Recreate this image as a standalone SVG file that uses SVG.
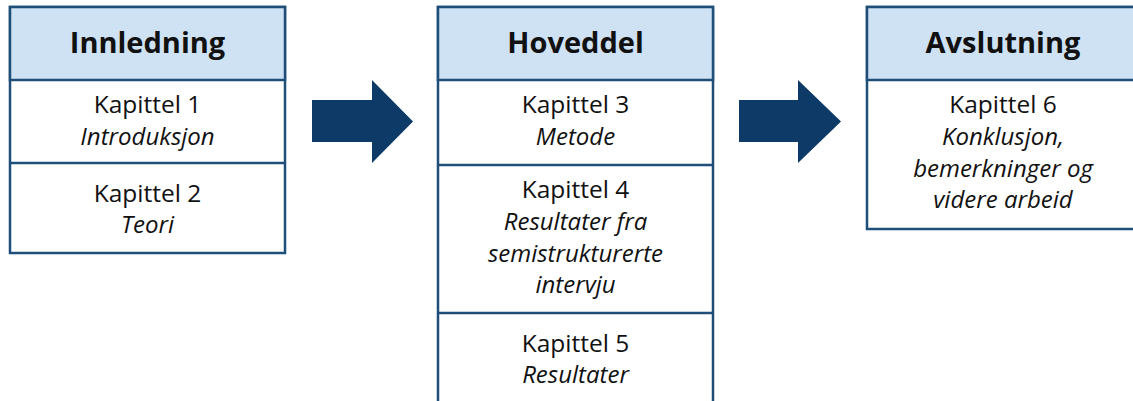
<svg xmlns="http://www.w3.org/2000/svg" width="1133" height="401" viewBox="0 0 1133 401">
<style>
.box{fill:#ffffff;stroke:#1f4e79;stroke-width:2.5}
.hdr{fill:#cfe2f3;stroke:#1f4e79;stroke-width:2.5}
.div{stroke:#1f4e79;stroke-width:2.5}
.h{font-family:"Open Sans","Noto Sans",sans-serif;font-weight:bold;font-size:29px;fill:#111;text-anchor:middle}
.t{font-family:"Open Sans","Noto Sans",sans-serif;font-size:24.5px;fill:#111;text-anchor:middle}
.i{font-family:"Open Sans","Noto Sans",sans-serif;font-size:24px;font-style:italic;fill:#111;text-anchor:middle}
.arr{fill:#0d3a66}
</style>
<rect width="1133" height="401" fill="#ffffff"/>
<g id="innledning">
<rect class="box" x="10" y="7" width="275" height="246"/>
<rect class="hdr" x="10" y="7" width="275" height="73"/>
<line class="div" x1="10" y1="163" x2="285" y2="163"/>
<text class="h" x="147.5" y="53">Innledning</text>
<text class="t" x="147.5" y="113">Kapittel 1</text>
<text class="i" x="147.5" y="145">Introduksjon</text>
<text class="t" x="147.5" y="202">Kapittel 2</text>
<text class="i" x="147.5" y="233">Teori</text>
</g>
<g id="hoveddel">
<rect class="box" x="438" y="7" width="275" height="410"/>
<rect class="hdr" x="438" y="7" width="275" height="73"/>
<line class="div" x1="438" y1="165" x2="713" y2="165"/>
<line class="div" x1="438" y1="313" x2="713" y2="313"/>
<text class="h" x="575.5" y="53">Hoveddel</text>
<text class="t" x="575.5" y="113">Kapittel 3</text>
<text class="i" x="575.5" y="145">Metode</text>
<text class="t" x="575.5" y="198">Kapittel 4</text>
<text class="i" x="575.5" y="230">Resultater fra</text>
<text class="i" x="575.5" y="262">semistrukturerte</text>
<text class="i" x="575.5" y="293">intervju</text>
<text class="t" x="575.5" y="352">Kapittel 5</text>
<text class="i" x="575.5" y="383">Resultater</text>
</g>
<g id="avslutning">
<rect class="box" x="867" y="7" width="275" height="222"/>
<rect class="hdr" x="867" y="7" width="275" height="73"/>
<text class="h" x="1003" y="53">Avslutning</text>
<text class="t" x="1003" y="113">Kapittel 6</text>
<text class="i" x="1003" y="145">Konklusjon,</text>
<text class="i" x="1003" y="177">bemerkninger og</text>
<text class="i" x="1003" y="208">videre arbeid</text>
</g>
<g id="connectors">
<polygon class="arr" points="312,100 372,100 372,80 413,121.5 372,163 372,142 312,142"/>
<polygon class="arr" points="739,100 798,100 798,80 841,121.5 798,163 798,142 739,142"/>
</g>
</svg>
